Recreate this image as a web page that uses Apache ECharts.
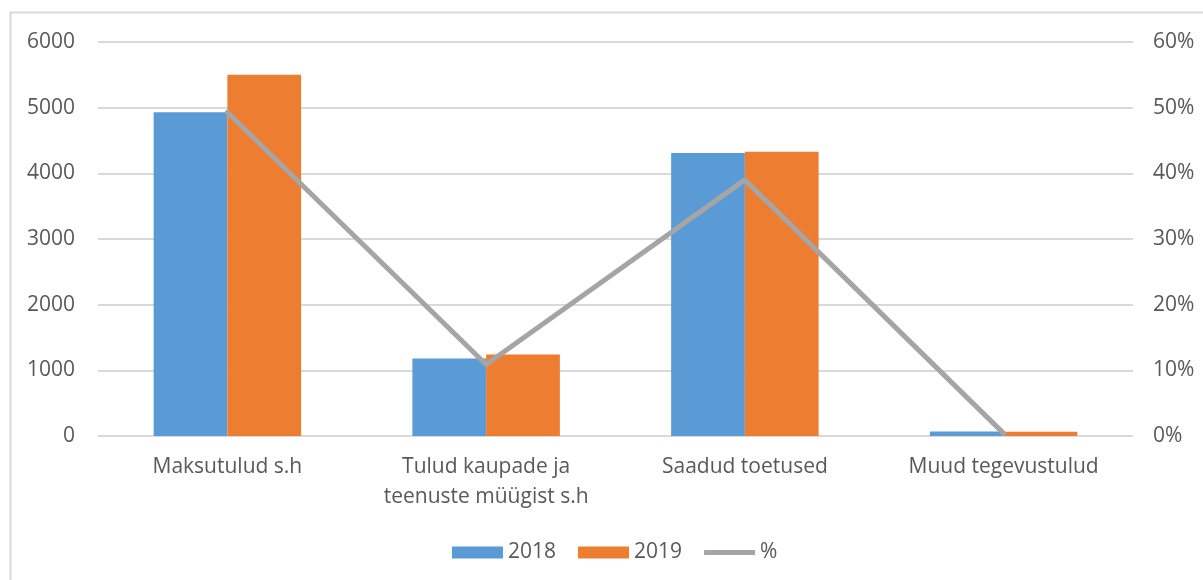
<!DOCTYPE html>
<html>
<head>
<meta charset="utf-8">
<script src="https://cdn.jsdelivr.net/npm/echarts@6/dist/echarts.min.js"></script>
<style>
  html, body { margin: 0; padding: 0; background: #fff; }
  #chart { width: 1203px; height: 580px; }
</style>
</head>
<body>
<div id="chart"></div>
<script>
var categories = ["Maksutulud s.h", "Tulud kaupade ja\nteenuste müügist s.h", "Saadud toetused", "Muud tegevustulud"];
var values2018 = [4930, 1180, 4310, 70];
var values2019 = [5500, 1240, 4330, 65];
var percent = [49.3, 10.9, 39.0, 0.4];
var leftTicks = { min: 0, max: 6000, interval: 1000 };
var rightTicks = { min: 0, max: 60, interval: 10 };

var textColor = "#595959";
var fontFamily = "'Open Sans', sans-serif";
var fontSize = 21;

// line-shaped legend icon: thin bar centred in a 51x12 box
var lineIcon = "path://M0,0L0.01,0L0,0.01Z M0,3.5L51,3.5L51,8.5L0,8.5Z M0,12L0.01,12L0,11.99Z";

var chart = echarts.init(document.getElementById("chart"));
chart.setOption({
  backgroundColor: "#ffffff",
  animation: false,
  textStyle: { fontFamily: fontFamily, color: textColor },
  graphic: [
    {
      type: "rect",
      shape: { x: 10.5, y: 12.5, width: 1300, height: 700 },
      style: { fill: "none", stroke: "#d9d9d9", lineWidth: 2 },
      silent: true
    }
  ],
  legend: {
    top: 537,
    left: 447,
    padding: 5,
    itemWidth: 51,
    itemHeight: 12,
    itemGap: 22,
    textStyle: { fontSize: fontSize, color: textColor, fontFamily: fontFamily },
    data: [
      { name: "2018", icon: "rect" },
      { name: "2019", icon: "rect" },
      { name: "%", icon: lineIcon, itemStyle: { color: "#a5a5a5" } }
    ]
  },
  grid: { left: 98, right: 70, top: 42, bottom: 144, containLabel: false },
  xAxis: {
    type: "category",
    data: categories,
    axisLine: { show: false },
    axisTick: { show: false },
    axisLabel: {
      margin: 16,
      fontSize: fontSize,
      color: textColor,
      fontFamily: fontFamily,
      lineHeight: 30,
      interval: 0
    }
  },
  yAxis: [
    {
      type: "value",
      min: leftTicks.min,
      max: leftTicks.max,
      interval: leftTicks.interval,
      axisLine: { show: false },
      axisTick: { show: false },
      axisLabel: {
        margin: 23, fontSize: fontSize, color: textColor, fontFamily: fontFamily,
        formatter: function (v) { return String(v); }
      },
      splitLine: { lineStyle: { color: "#d9d9d9", width: 2 } }
    },
    {
      type: "value",
      min: rightTicks.min,
      max: rightTicks.max,
      interval: rightTicks.interval,
      axisLine: { show: false },
      axisTick: { show: false },
      axisLabel: {
        margin: 20, fontSize: fontSize, color: textColor, fontFamily: fontFamily,
        formatter: function (v) { return v + "%"; }
      },
      splitLine: { show: false }
    }
  ],
  series: [
    {
      name: "2018",
      type: "bar",
      data: values2018,
      barGap: "0%",
      barCategoryGap: "43%",
      itemStyle: { color: "#5b9bd5" }
    },
    {
      name: "2019",
      type: "bar",
      data: values2019,
      itemStyle: { color: "#ed7d31" }
    },
    {
      name: "%",
      type: "line",
      yAxisIndex: 1,
      data: percent,
      symbol: "none",
      lineStyle: { color: "#a5a5a5", width: 5, cap: "round", join: "round" },
      itemStyle: { color: "#a5a5a5" },
      z: 5
    }
  ]
});
</script>
</body>
</html>
